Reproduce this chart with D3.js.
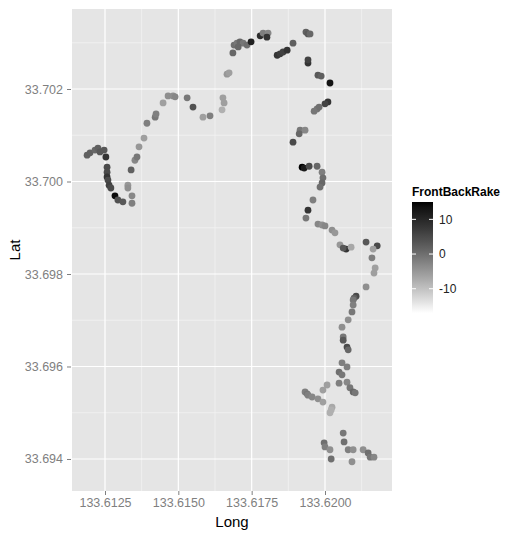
<!DOCTYPE html>
<html>
<head>
<meta charset="utf-8">
<script src="https://cdn.jsdelivr.net/npm/d3@7"></script>
<style>
  body { margin: 0; background: #fff; }
  svg { display: block; font-family: "Liberation Sans", Arial, sans-serif; }
</style>
</head>
<body>
<svg id="graph"></svg>
<script>
// survey points: longitude, latitude and FrontBackRake
var longs = [
  133.61189, 133.61199, 133.61216, 133.61226, 133.61233, 133.61247, 133.61253, 133.61257, 133.61257, 133.61257,
  133.61260, 133.61264, 133.61270, 133.61284, 133.61294, 133.61311, 133.61328, 133.61328, 133.61342, 133.61342,
  133.61339, 133.61352, 133.61359, 133.61366, 133.61383, 133.61393, 133.61421, 133.61424, 133.61448, 133.61465,
  133.61482, 133.61489, 133.61530, 133.61550, 133.61584, 133.61608, 133.61649, 133.61652, 133.61656, 133.61666,
  133.61673, 133.61686, 133.61690, 133.61700, 133.61710, 133.61721, 133.61734, 133.61704, 133.61748, 133.61779,
  133.61789, 133.61806, 133.61802, 133.61837, 133.61847, 133.61857, 133.61871, 133.61891, 133.61935, 133.61942,
  133.61949, 133.61942, 133.61942, 133.61976, 133.61987, 133.62017, 133.62010, 133.62000, 133.61973, 133.61980,
  133.61963, 133.61915, 133.61932, 133.61912, 133.61891, 133.61922, 133.61929, 133.61946, 133.61973, 133.61990,
  133.61993, 133.61990, 133.61983, 133.61959, 133.61942, 133.61935, 133.61976, 133.61990, 133.62000, 133.62024,
  133.62034, 133.62051, 133.62072, 133.62062, 133.62089, 133.62140, 133.62178, 133.62164, 133.62160, 133.62171,
  133.62167, 133.62140, 133.62106, 133.62099, 133.62096, 133.62096, 133.62092, 133.62079, 133.62058, 133.62062,
  133.62062, 133.62075, 133.62079, 133.62058, 133.62075, 133.62048, 133.62058, 133.62048, 133.62075, 133.62085,
  133.62096, 133.62103, 133.62007, 133.61993, 133.61932, 133.61939, 133.61942, 133.61956, 133.61976, 133.61993,
  133.62024, 133.62021, 133.62017, 133.62062, 133.62065, 133.61997, 133.62000, 133.62017, 133.62021, 133.62079,
  133.62096, 133.62130, 133.62147, 133.62154, 133.62167, 133.62092
];
var lats = [
  33.70057, 33.70062, 33.70068, 33.70072, 33.70064, 33.70068, 33.70053, 33.70031, 33.70020, 33.70010,
  33.70003, 33.69992, 33.69986, 33.69969, 33.69960, 33.69956, 33.69992, 33.69986, 33.69969, 33.69953,
  33.70025, 33.70046, 33.70053, 33.70075, 33.70094, 33.70126, 33.70139, 33.70146, 33.70170, 33.70185,
  33.70185, 33.70183, 33.70181, 33.70161, 33.70139, 33.70142, 33.70155, 33.70181, 33.70170, 33.70232,
  33.70235, 33.70278, 33.70295, 33.70299, 33.70302, 33.70299, 33.70295, 33.70291, 33.70302, 33.70315,
  33.70321, 33.70321, 33.70312, 33.70273, 33.70276, 33.70280, 33.70284, 33.70299, 33.70323, 33.70319,
  33.70319, 33.70256, 33.70263, 33.70230, 33.70228, 33.70213, 33.70172, 33.70168, 33.70157, 33.70161,
  33.70152, 33.70111, 33.70111, 33.70103, 33.70085, 33.70031, 33.70029, 33.70033, 33.70033, 33.70020,
  33.70008, 33.69997, 33.69988, 33.69960, 33.69938, 33.69921, 33.69908, 33.69906, 33.69904, 33.69895,
  33.69889, 33.69863, 33.69854, 33.69856, 33.69858, 33.69869, 33.69861, 33.69854, 33.69835, 33.69813,
  33.69802, 33.69772, 33.69752, 33.69748, 33.69744, 33.69733, 33.69718, 33.69701, 33.69685, 33.69664,
  33.69657, 33.69642, 33.69636, 33.69608, 33.69599, 33.69588, 33.69582, 33.69564, 33.69566, 33.69554,
  33.69545, 33.69543, 33.69560, 33.69549, 33.69545, 33.69541, 33.69538, 33.69534, 33.69530, 33.69523,
  33.69512, 33.69506, 33.69500, 33.69456, 33.69437, 33.69435, 33.69426, 33.69420, 33.69400, 33.69420,
  33.69420, 33.69420, 33.69413, 33.69404, 33.69404, 33.69394
];
var rakes = [
  2, 2, 1, 2, 3, 3, 8, 5, 5, 8,
  5, 6, 5, 14, 4, 3, -5, -4, -3, -2,
  2, -3, -1, -5, -6, -2, -1, -2, -6, -4,
  -4, -3, -1, 4, -6, -2, -8, -6, -6, -5,
  -6, 1, 0, -1, 1, -1, 0, 1, 11, 9,
  -2, -3, 8, 8, 7, 6, 8, 2, 2, 3,
  1, 8, 6, 3, 2, 13, 8, 6, -1, 0,
  -1, -1, -3, 1, 5, 15, 12, 5, 1, -2,
  0, 1, 0, -2, 8, -1, -3, -4, -3, -4,
  -5, -5, 8, 3, -7, 3, 5, -6, -2, -6,
  -6, -4, 5, 2, -1, -2, -1, -4, -4, -1,
  3, 5, 1, -2, -2, 0, -1, -2, -3, -1,
  1, -1, -6, -6, -2, -1, -2, -3, -4, -6,
  -7, -8, -8, -1, 0, 0, -2, -4, 0, -2,
  -4, -4, 0, -1, -3, -4
];

var xDomain = [133.611375, 133.622284];
var yDomain = [33.693308, 33.70373];
var xTicks = [133.6125, 133.6150, 133.6175, 133.6200];
var yTicks = [33.694, 33.696, 33.698, 33.700, 33.702];
var rakeDomain = [-17, 15];
var rakeTicks = [-10, 0, 10];

var svg = d3.select("#graph")
  .attr('width', 507)
  .attr('height', 533)

var panel = {left: 72, right: 392, top: 9, bottom: 491};

var x = d3.scaleLinear().domain(xDomain).range([panel.left, panel.right]),
    y = d3.scaleLinear().domain(yDomain).range([panel.bottom, panel.top]);

var colour = d3.scaleLinear().domain(rakeDomain).range(["#ffffff", "#000000"])
  .interpolate(d3.interpolateLab);

// grey panel
svg.append('rect')
  .attr('x', panel.left).attr('y', panel.top)
  .attr('width', panel.right - panel.left)
  .attr('height', panel.bottom - panel.top)
  .attr('fill', '#e5e5e5')

// minor grid sits halfway between the major ticks
function minors(ticks, dom) {
  var step = ticks[1] - ticks[0], out = [];
  for (var i = -1; i < ticks.length; i++) {
    var v = ticks[0] + (i + 0.5) * step;
    if (v > dom[0] && v < dom[1]) out.push(v);
  }
  return out;
}

var grid = svg.append('g')
grid.selectAll('.xminor').data(minors(xTicks, xDomain)).enter().append('line')
  .attr('x1', function(d) { return x(d) }).attr('x2', function(d) { return x(d) })
  .attr('y1', panel.top).attr('y2', panel.bottom)
  .attr('stroke', '#f2f2f2').attr('stroke-width', 0.8)
grid.selectAll('.yminor').data(minors(yTicks, yDomain)).enter().append('line')
  .attr('y1', function(d) { return y(d) }).attr('y2', function(d) { return y(d) })
  .attr('x1', panel.left).attr('x2', panel.right)
  .attr('stroke', '#f2f2f2').attr('stroke-width', 0.8)
grid.selectAll('.xmajor').data(xTicks).enter().append('line')
  .attr('x1', function(d) { return x(d) }).attr('x2', function(d) { return x(d) })
  .attr('y1', panel.top).attr('y2', panel.bottom)
  .attr('stroke', '#ffffff').attr('stroke-width', 1.2)
grid.selectAll('.ymajor').data(yTicks).enter().append('line')
  .attr('y1', function(d) { return y(d) }).attr('y2', function(d) { return y(d) })
  .attr('x1', panel.left).attr('x2', panel.right)
  .attr('stroke', '#ffffff').attr('stroke-width', 1.2)

// the points
var pts = longs.map(function(d, i) { return {long: d, lat: lats[i], rake: rakes[i]}; });
svg.append('g').selectAll('circle')
  .data(pts)
  .enter().append('circle')
  .attr('cx', function(d) { return x(d.long) })
  .attr('cy', function(d) { return y(d.lat) })
  .attr('r', 3.4)
  .attr('fill', function(d) { return colour(d.rake) })

// axes
var xAxis = svg.append('g')
  .attr('transform', 'translate(0,' + panel.bottom + ')')
  .call(d3.axisBottom(x).tickValues(xTicks).tickFormat(d3.format('.4f')).tickSize(4).tickPadding(3))
var yAxis = svg.append('g')
  .attr('transform', 'translate(' + (panel.left - 1) + ',0)')
  .call(d3.axisLeft(y).tickValues(yTicks).tickFormat(d3.format('.3f')).tickSize(4).tickPadding(4))

;[xAxis, yAxis].forEach(function(a) {
  a.select('.domain').remove()
  a.selectAll('.tick line').attr('stroke', '#7f7f7f')
  a.selectAll('.tick text')
    .attr('fill', '#7f7f7f')
    .style('font-size', '12.5px')
    .style('font-family', '"Liberation Sans", Arial, sans-serif')
})

svg.append('text')
  .attr('x', (panel.left + panel.right) / 2).attr('y', 527)
  .attr('text-anchor', 'middle')
  .style('font-size', '15px')
  .text('Long')

svg.append('text')
  .attr('transform', 'translate(20,' + ((panel.top + panel.bottom) / 2) + ') rotate(-90)')
  .attr('text-anchor', 'middle')
  .style('font-size', '15px')
  .text('Lat')

// colourbar legend
var bar = {x: 412, w: 21, top: 202, bottom: 313};
var ly = d3.scaleLinear().domain(rakeDomain).range([bar.bottom, bar.top]);

var grad = svg.append('defs').append('linearGradient')
  .attr('id', 'rakegrad')
  .attr('x1', 0).attr('y1', 1).attr('x2', 0).attr('y2', 0)
grad.selectAll('stop')
  .data(d3.range(0, 1.0001, 0.05))
  .enter().append('stop')
  .attr('offset', function(d) { return d })
  .attr('stop-color', function(d) { return colour(rakeDomain[0] + d * (rakeDomain[1] - rakeDomain[0])) })

var legend = svg.append('g')
legend.append('text')
  .attr('x', bar.x).attr('y', 196)
  .style('font-size', '12px').style('font-weight', 'bold')
  .text('FrontBackRake')

legend.append('rect')
  .attr('x', bar.x).attr('y', bar.top)
  .attr('width', bar.w).attr('height', bar.bottom - bar.top)
  .attr('fill', 'url(#rakegrad)')

var lt = legend.selectAll('.lt').data(rakeTicks).enter().append('g')
  .attr('transform', function(d) { return 'translate(0,' + ly(d) + ')' })
lt.append('line').attr('x1', bar.x).attr('x2', bar.x + 4)
  .attr('stroke', '#fff').attr('stroke-width', 1)
lt.append('line').attr('x1', bar.x + bar.w - 4).attr('x2', bar.x + bar.w)
  .attr('stroke', '#fff').attr('stroke-width', 1)
lt.append('text')
  .attr('x', bar.x + bar.w + 6).attr('dy', '0.35em')
  .style('font-size', '12px').attr('fill', '#222')
  .text(function(d) { return d })
</script>
</body>
</html>
